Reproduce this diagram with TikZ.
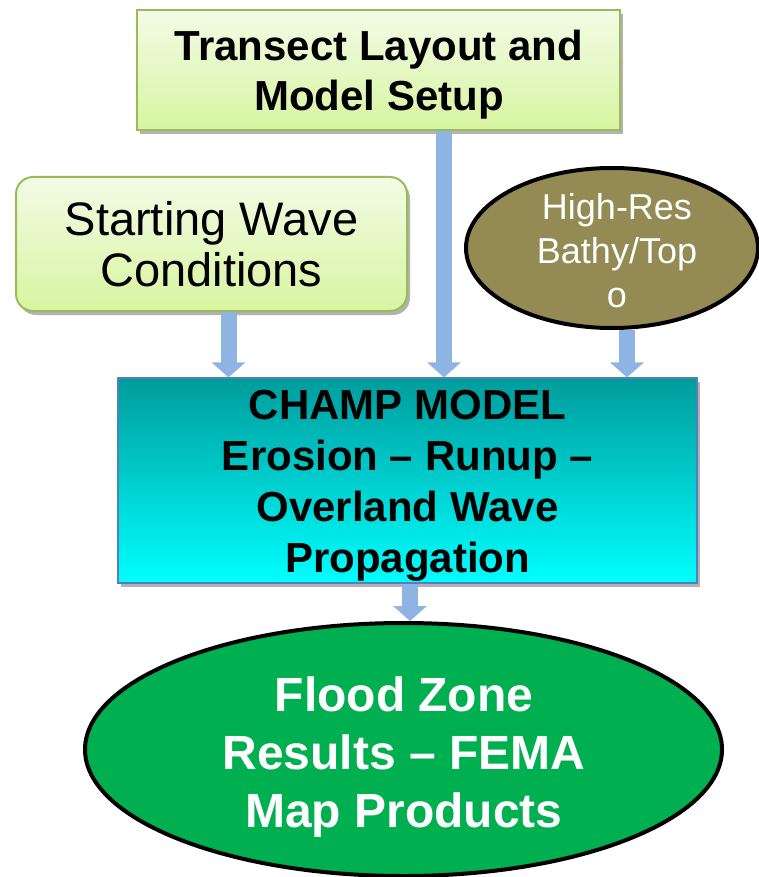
\documentclass[tikz,border=0pt]{standalone}
\usepackage{fontspec}
\setmainfont{Liberation Sans}
\usetikzlibrary{arrows.meta,shapes.geometric,shadows}

\definecolor{boxgreentop}{HTML}{F3FBE6}
\definecolor{boxgreenbot}{HTML}{D7F5A0}
\definecolor{boxgreenline}{HTML}{9BBB59}
\definecolor{bathyolive}{HTML}{948A54}
\definecolor{champtop}{HTML}{009C9C}
\definecolor{champbot}{HTML}{00FFFF}
\definecolor{champline}{HTML}{4F81BD}
\definecolor{floodgreen}{HTML}{00B050}
\definecolor{flowblue}{HTML}{8EB4E3}

\begin{document}
\begin{tikzpicture}[x=1pt,y=-1pt,
	softshadow/.style={drop shadow={shadow xshift=3pt,shadow yshift=-4pt,opacity=.3,fill=black}},
	greenbox/.style={draw=boxgreenline,line width=2pt,top color=boxgreentop,bottom color=boxgreenbot,align=center,inner sep=0pt,softshadow},
	champbox/.style={draw=champline,line width=1.2pt,top color=champtop,bottom color=champbot,inner sep=0pt,softshadow},
	blob/.style={ellipse,draw=black,line width=4pt,inner sep=0pt},
	blobtext/.style={text=white,align=center,inner sep=0pt},
	flow/.style={draw=flowblue,line width=16pt,-{Triangle[length=15pt,width=33pt]}}]
	
	\useasboundingbox (0,0) rectangle (759,877);
	
	% inputs
	\node[greenbox,minimum width=483,minimum height=120] (setup) at (378.5,70) {};
	\node[align=center,inner sep=0pt,font=\fontsize{42}{50}\selectfont\bfseries] (setuptext) at (379,75) {Transect Layout and\\Model Setup};
	\node[greenbox,rounded corners=17pt,minimum width=391,minimum height=134,font=\fontsize{47}{51}\selectfont] (wave) at (211.5,244) {Starting Wave\\Conditions};
	\node[blob,fill=bathyolive,minimum width=292,minimum height=160] (topo) at (612,248) {};
	\node[blobtext,font=\fontsize{36}{44}\selectfont] (topotext) at (617,251) {High-Res\\Bathy/Top\\o};
	
	% model
	\node[champbox,minimum width=579,minimum height=205] (champ) at (407.5,480.5) {};
	\node[align=center,inner sep=0pt,font=\fontsize{42}{51}\selectfont\bfseries] (champtext) at (407.5,486) {CHAMP MODEL\\Erosion -- Runup --\\Overland Wave\\Propagation};
	
	% output
	\node[blob,fill=floodgreen,minimum width=637,minimum height=253] (flood) at (403.5,749.5) {};
	\node[blobtext,font=\fontsize{48}{58}\selectfont\bfseries] (floodtext) at (404,757) {Flood Zone\\Results -- FEMA\\Map Products};
	
	% arrows
	\draw[flow] ([xshift=17pt]wave.south) -- ([xshift=17pt]wave.south |- champ.north);
	\draw[flow] ([xshift=65.5pt]setup.south) -- ([xshift=65.5pt]setup.south |- champ.north);
	\draw[flow] ([xshift=15pt]topo.south) -- ([xshift=15pt]topo.south |- champ.north);
	\draw[flow] ([xshift=2.5pt]champ.south) -- ([xshift=2.5pt]champ.south |- flood.north);
\end{tikzpicture}
\end{document}
